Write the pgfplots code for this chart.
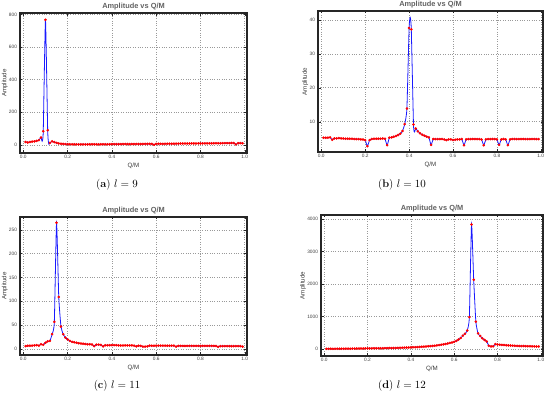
\documentclass[border=0pt]{standalone}
\usepackage{fontspec}
\setsansfont{Liberation Sans}
\usepackage{pgfplots}
\usepackage{pgfplotstable}
\pgfplotsset{compat=1.18}

% columns: x, amplitude, e (1 = point read off the blue curve only)
\pgfplotstableread{
x y e
0.01 18 0
0.02 15 0
0.03 18 0
0.04 20 0
0.05 21 0
0.06 24 0
0.07 29 0
0.08 45 0
0.085 22 1
0.09 83 0
0.10 768 0
0.11 90 0
0.115 4 1
0.12 12 0
0.13 22 0
0.14 17 0
0.15 12 0
0.16 9 0
0.17 7 0
0.18 6 0
0.19 5 0
0.20 4 0
0.21 3.5 0
0.22 3 0
0.23 3 0
0.24 3 0
0.25 3 0
0.26 3 0
0.27 3 0
0.28 3 0
0.29 3 0
0.30 3 0
0.31 3.5 0
0.32 3.5 0
0.33 3.5 0
0.34 3.5 0
0.35 3.5 0
0.36 4 0
0.37 4 0
0.38 4 0
0.39 4 0
0.40 4 0
0.41 4.5 0
0.42 4.5 0
0.43 4.5 0
0.44 4.5 0
0.45 5 0
0.46 5 0
0.47 5 0
0.48 5 0
0.49 5 0
0.50 5 0
0.51 5.5 0
0.52 5.5 0
0.53 5.5 0
0.54 5.5 0
0.55 6 0
0.56 6 0
0.57 6 0
0.58 6 0
0.59 1 0
0.60 6 0
0.61 6.5 0
0.62 6.5 0
0.63 6.5 0
0.64 6.5 0
0.65 7 0
0.66 7 0
0.67 7 0
0.68 7 0
0.69 7.5 0
0.70 7.5 0
0.71 8 0
0.72 8 0
0.73 8 0
0.74 8 0
0.75 8.5 0
0.76 8.5 0
0.77 8.5 0
0.78 8.5 0
0.79 9 0
0.80 9 0
0.81 9 0
0.82 9 0
0.83 9.5 0
0.84 9.5 0
0.85 9.5 0
0.86 9.5 0
0.87 10 0
0.88 10 0
0.89 10 0
0.90 10 0
0.91 10.5 0
0.92 10.5 0
0.93 10.5 0
0.94 11 0
0.95 11 0
0.96 3 0
0.97 10 0
0.98 11 0
0.99 10 0
}\dataA

\pgfplotstableread{
x y e
0.01 5.3 0
0.02 5.3 0
0.03 5.3 0
0.04 5.4 0
0.05 4.7 0
0.06 5.1 0
0.07 5.1 0
0.08 5.2 0
0.09 5.1 0
0.10 5.1 0
0.11 5.0 0
0.12 5.0 0
0.13 5.0 0
0.14 5.0 0
0.15 4.9 0
0.16 4.9 0
0.17 4.9 0
0.18 4.8 0
0.19 4.8 0
0.20 4.6 0
0.21 2.8 0
0.22 4.6 0
0.23 4.9 0
0.24 5.0 0
0.25 5.0 0
0.26 5.0 0
0.27 5.0 0
0.28 5.1 0
0.29 5.0 0
0.30 3.1 0
0.31 5.3 0
0.32 5.4 0
0.33 5.6 0
0.34 5.8 0
0.35 6.1 0
0.36 6.5 0
0.37 7.3 0
0.38 9.3 0
0.39 13.9 0
0.40 37.6 0
0.405 40.7 1
0.41 37.2 0
0.42 9.2 0
0.425 7.0 1
0.43 8.0 0
0.44 7.2 0
0.45 6.6 0
0.46 6.2 0
0.47 5.9 0
0.48 5.6 0
0.49 5.4 0
0.50 3.2 0
0.51 4.9 0
0.52 4.9 0
0.53 4.9 0
0.54 4.9 0
0.55 4.9 0
0.56 4.8 0
0.57 4.6 0
0.58 4.8 0
0.59 4.8 0
0.60 4.6 0
0.61 4.7 0
0.62 4.8 0
0.63 4.8 0
0.64 4.9 0
0.65 3.1 0
0.66 4.8 0
0.67 4.9 0
0.68 4.9 0
0.69 4.9 0
0.70 4.9 0
0.71 4.9 0
0.72 4.9 0
0.73 4.8 0
0.74 3.1 0
0.75 4.8 0
0.76 4.9 0
0.77 4.9 0
0.78 4.9 0
0.79 4.9 0
0.80 4.8 0
0.81 3.2 0
0.82 4.8 0
0.83 4.9 0
0.84 4.8 0
0.85 3.1 0
0.86 4.8 0
0.87 4.9 0
0.88 4.9 0
0.89 4.9 0
0.90 4.9 0
0.91 4.9 0
0.92 4.9 0
0.93 4.9 0
0.94 4.9 0
0.95 4.9 0
0.96 4.9 0
0.97 4.9 0
0.98 4.9 0
0.99 4.9 0
}\dataB

\pgfplotstableread{
x y e
0.01 6 0
0.02 7 0
0.03 7 0
0.04 7 0
0.05 7.5 0
0.06 8 0
0.07 7 0
0.08 10 0
0.09 9 0
0.10 13 0
0.11 16 0
0.12 17 0
0.13 31 0
0.14 57 0
0.15 265 0
0.16 109 0
0.17 47 0
0.18 31 0
0.19 24 0
0.20 20 0
0.21 17 0
0.22 15 0
0.23 14 0
0.24 13 0
0.25 12 0
0.26 11.5 0
0.27 11 0
0.28 10.5 0
0.29 10 0
0.30 10 0
0.31 9.5 0
0.32 6 0
0.33 9 0
0.34 9 0
0.35 8.5 0
0.36 5.5 0
0.37 8 0
0.38 8 0
0.39 8 0
0.40 8 0
0.41 8 0
0.42 8 0
0.43 7.5 0
0.44 7.5 0
0.45 7.5 0
0.46 7.5 0
0.47 7.5 0
0.48 7.5 0
0.49 7.5 0
0.50 7 0
0.51 5.5 0
0.52 7 0
0.53 6.5 0
0.54 5 0
0.55 5 0
0.56 5.5 0
0.57 7 0
0.58 7 0
0.59 7 0
0.60 7 0
0.61 7 0
0.62 7 0
0.63 7 0
0.64 7 0
0.65 7 0
0.66 7 0
0.67 7 0
0.68 7 0
0.69 5 0
0.70 6.5 0
0.71 6.5 0
0.72 6.5 0
0.73 6.5 0
0.74 6.5 0
0.75 6.5 0
0.76 6.5 0
0.77 6.5 0
0.78 6.5 0
0.79 6.5 0
0.80 6.5 0
0.81 6.5 0
0.82 6.5 0
0.83 6.5 0
0.84 6.5 0
0.85 6.5 0
0.86 6.5 0
0.87 6.5 0
0.88 4.5 0
0.89 6 0
0.90 6 0
0.91 6 0
0.92 6 0
0.93 6 0
0.94 6 0
0.95 6 0
0.96 6 0
0.97 6 0
0.98 6 0
0.99 5 0
}\dataC

\pgfplotstableread{
x y e
0.01 5 0
0.02 5 0
0.03 6 0
0.04 6 0
0.05 7 0
0.06 7 0
0.07 8 0
0.08 8 0
0.09 9 0
0.10 10 0
0.11 11 0
0.12 11 0
0.13 12 0
0.14 13 0
0.15 14 0
0.16 15 0
0.17 15 0
0.18 16 0
0.19 17 0
0.20 18 0
0.21 19 0
0.22 20 0
0.23 21 0
0.24 22 0
0.25 23 0
0.26 24 0
0.27 25 0
0.28 26 0
0.29 27 0
0.30 29 0
0.31 30 0
0.32 31 0
0.33 33 0
0.34 35 0
0.35 37 0
0.36 39 0
0.37 42 0
0.38 44 0
0.39 47 0
0.40 50 0
0.41 53 0
0.42 56 0
0.43 60 0
0.44 64 0
0.45 68 0
0.46 73 0
0.47 78 0
0.48 83 0
0.49 89 0
0.50 95 0
0.51 102 0
0.52 110 0
0.53 120 0
0.54 130 0
0.55 142 0
0.56 155 0
0.57 170 0
0.58 185 0
0.59 200 0
0.60 220 0
0.61 250 0
0.62 290 0
0.63 340 0
0.64 410 0
0.65 470 0
0.66 570 0
0.67 980 0
0.68 3830 0
0.69 2130 0
0.70 840 0
0.71 480 0
0.72 400 0
0.73 330 0
0.74 280 0
0.75 230 0
0.76 100 0
0.77 80 0
0.78 82 0
0.79 150 0
0.80 140 0
0.81 132 0
0.82 126 0
0.83 120 0
0.84 115 0
0.85 110 0
0.86 106 0
0.87 102 0
0.88 99 0
0.89 96 0
0.90 93 0
0.91 91 0
0.92 89 0
0.93 87 0
0.94 85 0
0.95 83 0
0.96 82 0
0.97 80 0
0.98 79 0
0.99 78 0
}\dataD

\pgfplotsset{
  mma/.style={
    scale only axis,
    xmin=-0.015, xmax=1.01,
    xtick={0,0.2,0.4,0.6,0.8,1.0},
    minor x tick num=3,
    minor y tick num=4,
    /pgf/number format/1000 sep={},
    /pgf/number format/assume math mode=true,
    grid=major,
    grid style={dotted, black!40, line width=0.6pt},
    axis line style={line width=1.1pt, black!85},
    tick style={black!85, line width=0.5pt},
    major tick length=2.5pt, minor tick length=1.3pt,
    tick label style={font=\sffamily\fontsize{4.8}{5}\selectfont, text=black!75},
    yticklabel style={xshift=0.5pt},
    xticklabel style={yshift=1pt, /pgf/number format/fixed,
      /pgf/number format/fixed zerofill, /pgf/number format/precision=1},
    title={Amplitude vs Q/M},
    title style={font=\sffamily\bfseries\fontsize{7.4}{8}\selectfont, text=black!62, yshift=-6.5pt},
    xlabel={Q/M}, ylabel={Amplitude},
    label style={font=\sffamily\fontsize{6.2}{7}\selectfont, text=black!78},
    xlabel style={yshift=3pt},
    ylabel style={yshift=-5.5pt},
  },
  fit/.style={blue!90!white, line width=0.8pt, smooth, tension=0.3},
  pts/.style={only marks, mark=*, mark size=1.1pt, red},
}

\begin{document}
\begin{tikzpicture}
\path[use as bounding box] (0pt,0pt) rectangle (550pt,398pt);

\begin{axis}[mma, at={(20pt,245pt)}, anchor=south west, width=227pt, height=140pt,
  ymin=-50, ymax=810, ytick={0,200,400,600,800}]
\addplot[fit] table[x=x, y=y] {\dataA};
\addplot[pts, restrict expr to domain={\thisrow{e}}{0:0}] table[x=x, y=y] {\dataA};
\end{axis}

\begin{axis}[mma, at={(318pt,246pt)}, anchor=south west, width=225pt, height=141pt,
  ymin=1.1, ymax=42.6, ytick={10,20,30,40}]
\addplot[fit] table[x=x, y=y] {\dataB};
\addplot[pts, restrict expr to domain={\thisrow{e}}{0:0}] table[x=x, y=y] {\dataB};
\end{axis}

\begin{axis}[mma, at={(20pt,43pt)}, anchor=south west, width=227pt, height=138pt,
  ymin=-12.6, ymax=277, ytick={0,50,100,150,200,250}]
\addplot[fit] table[x=x, y=y] {\dataC};
\addplot[pts, restrict expr to domain={\thisrow{e}}{0:0}] table[x=x, y=y] {\dataC};
\end{axis}

\begin{axis}[mma, at={(321pt,42pt)}, anchor=south west, width=222pt, height=141pt,
  ymin=-215, ymax=4120, ytick={0,1000,2000,3000,4000}]
\addplot[fit] table[x=x, y=y] {\dataD};
\addplot[pts, restrict expr to domain={\thisrow{e}}{0:0}] table[x=x, y=y] {\dataD};
\end{axis}

\node[font=\fontsize{11}{13}\selectfont] at (117pt,213pt) {(\textbf{a}) $l=9$};
\node[font=\fontsize{11}{13}\selectfont] at (402pt,213pt) {(\textbf{b}) $l=10$};
\node[font=\fontsize{11}{13}\selectfont] at (117pt,12pt) {(\textbf{c}) $l=11$};
\node[font=\fontsize{11}{13}\selectfont] at (402pt,12pt) {(\textbf{d}) $l=12$};
\end{tikzpicture}
\end{document}
